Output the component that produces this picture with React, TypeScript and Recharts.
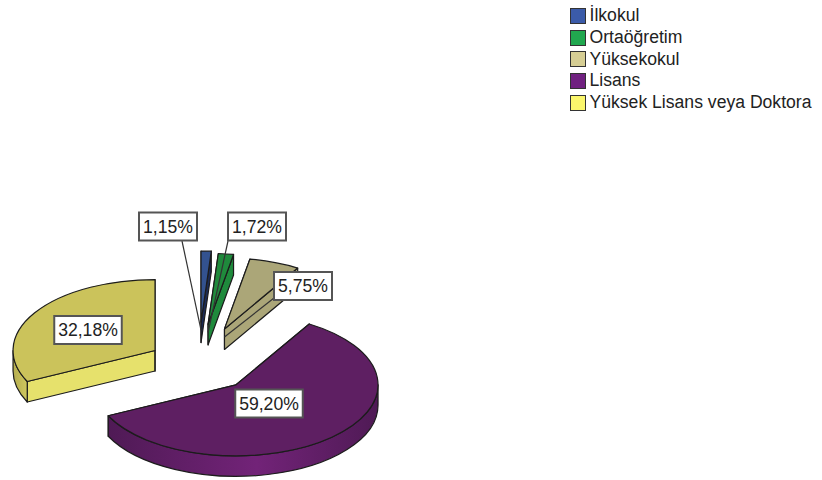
import React from 'react';
import { PieChart, Pie, Legend } from 'recharts';

const CATEGORIES = ['İlkokul', 'Ortaöğretim', 'Yüksekokul', 'Lisans', 'Yüksek Lisans veya Doktora'];
const PERCENTAGES = [1.15, 1.72, 5.75, 59.2, 32.18];

const LEGEND_COLORS = ['#3B5BA9', '#21A84F', '#D6CE94', '#702180', '#FAF66C'];
const TOP_COLORS = ['#33528F', '#1F8A3C', '#ABA678', '#5E1F62', '#CBC35B'];
const CUT_COLORS = ['#1B2B55', '#1F8A3C', '#ABA678', '#4A184E', '#E6E16C'];
const WALL_FILLS = ['#222', '#222', '#222', 'url(#wallPurple)', 'url(#wallYellow)'];

// how far each slice is pulled out of the pie
const EXPLODE = [84, 80, 75, 56.4, 50.7];
const LABEL_CENTERS = [
  [168, 226.5],
  [257, 226.5],
  [303, 286],
  [269, 403.5],
  [88, 330],
];
const LEADER_STARTS: (number[] | null)[] = [[182, 241], [228, 241], [274, 298], null, null];

const WIDTH = 822;
const HEIGHT = 480;
const CX = 198;
const CY = 364;
const RX = 142;
const TILT = 0.5;
const DEPTH = 20.5;
const EDGE = '#1c1c1c';
const FONT = '"Liberation Sans", Arial, sans-serif';
const FONT_SIZE = 17.6;

const tableData = CATEGORIES.map((name, i) => ({
  name,
  value: PERCENTAGES[i],
  fill: LEGEND_COLORS[i],
}));

const rad = (deg: number) => (deg * Math.PI) / 180;

function sliceTip(cx: number, cy: number, midAngle: number, index: number) {
  return {
    x: cx + EXPLODE[index] * Math.cos(rad(midAngle)),
    y: cy - EXPLODE[index] * TILT * Math.sin(rad(midAngle)),
  };
}

// Pie slice seen at an angle: flattened top, cut faces and outer wall
function TiltedSlice(props: any) {
  const { cx, cy, outerRadius, startAngle, endAngle, index } = props;
  const ry = outerRadius * TILT;
  const tip = sliceTip(cx, cy, (startAngle + endAngle) / 2, index);
  const at = (deg: number, drop = 0) => ({
    x: tip.x + outerRadius * Math.cos(rad(deg)),
    y: tip.y - ry * Math.sin(rad(deg)) + drop,
  });
  const start = at(startAngle);
  const end = at(endAngle);
  const large = startAngle - endAngle > 180 ? 1 : 0;
  const top = `M${tip.x},${tip.y} L${start.x},${start.y} A${outerRadius},${ry} 0 ${large} 1 ${end.x},${end.y} Z`;

  const cut = (p: { x: number; y: number }) =>
    `M${tip.x},${tip.y} L${p.x},${p.y} L${p.x},${p.y + DEPTH} L${tip.x},${tip.y + DEPTH} Z`;

  // the outer wall only shows along the front half of the ellipse
  const wallFrom = Math.min(startAngle, 0);
  const wallTo = Math.max(endAngle, -180);
  let wall = '';
  if (wallFrom > wallTo) {
    const a = at(wallFrom);
    const b = at(wallTo);
    const a2 = at(wallFrom, DEPTH);
    const b2 = at(wallTo, DEPTH);
    wall = `M${a.x},${a.y} A${outerRadius},${ry} 0 0 1 ${b.x},${b.y} L${b2.x},${b2.y} A${outerRadius},${ry} 0 0 0 ${a2.x},${a2.y} Z`;
  }

  return (
    <g stroke={EDGE} strokeWidth={1.2} strokeLinejoin="round">
      <path d={cut(start)} fill={CUT_COLORS[index]} />
      <path d={cut(end)} fill={CUT_COLORS[index]} />
      {wall && <path d={wall} fill={WALL_FILLS[index]} />}
      <path d={top} fill={TOP_COLORS[index]} />
    </g>
  );
}

function ValueLabel(props: any) {
  const { cx, cy, midAngle, index, value } = props;
  const text = `${value.toFixed(2).replace('.', ',')}%`;
  const [x, y] = LABEL_CENTERS[index];
  const w = text.length * 9.5 + 10.5;
  const h = 28;
  const from = LEADER_STARTS[index];
  const tip = sliceTip(cx, cy, midAngle, index);
  return (
    <g>
      {from && <line x1={from[0]} y1={from[1]} x2={tip.x} y2={tip.y + 8} stroke="#333" strokeWidth={1.2} />}
      <rect x={x - w / 2} y={y - h / 2} width={w} height={h} fill="#fff" stroke="#555" strokeWidth={2} />
      <text x={x} y={y + 6} textAnchor="middle" fontFamily={FONT} fontSize={FONT_SIZE} fill="#222">
        {text}
      </text>
    </g>
  );
}

function LegendList({ payload }: any) {
  return (
    <div>
      {(payload || []).map((entry: any) => (
        <div key={entry.value} style={{ display: 'flex', alignItems: 'center', height: 21.7, fontFamily: FONT, fontSize: FONT_SIZE, color: '#222', whiteSpace: 'nowrap' }}>
          <span style={{ width: 14, height: 14, marginRight: 3.5, background: entry.color, border: '1.5px solid #333', boxSizing: 'content-box' }} />
          {entry.value}
        </div>
      ))}
    </div>
  );
}

export default function App() {
  return (
    <div style={{ position: 'absolute', left: 0, top: 0, width: WIDTH, height: HEIGHT, background: '#fff' }}>
      <PieChart width={WIDTH} height={HEIGHT} margin={{ top: 0, right: 0, bottom: 0, left: 0 }}>
        <defs>
          <linearGradient id="wallPurple" x1="0" y1="0" x2="1" y2="0">
            <stop offset="0%" stopColor="#4f1a55" />
            <stop offset="55%" stopColor="#722378" />
            <stop offset="100%" stopColor="#4f1a55" />
          </linearGradient>
          <linearGradient id="wallYellow" x1="0" y1="0" x2="1" y2="0">
            <stop offset="0%" stopColor="#b5ad50" />
            <stop offset="100%" stopColor="#cfc85e" />
          </linearGradient>
        </defs>
        <Legend
          layout="vertical"
          align="center"
          verticalAlign="middle"
          itemSorter={null}
          wrapperStyle={{ left: 570, top: 5, width: 252 }}
          content={<LegendList />}
        />
        <Pie
          data={tableData}
          dataKey="value"
          nameKey="name"
          cx={CX}
          cy={CY}
          outerRadius={RX}
          startAngle={90}
          endAngle={-270}
          shape={TiltedSlice}
          label={ValueLabel}
          labelLine={false}
          isAnimationActive={false}
        />
      </PieChart>
    </div>
  );
}
